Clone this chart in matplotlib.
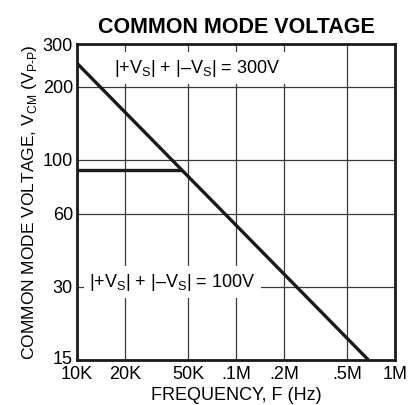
import matplotlib
matplotlib.use("Agg")
import matplotlib.pyplot as plt
from matplotlib.ticker import FixedLocator, FixedFormatter, NullLocator
from matplotlib.transforms import ScaledTranslation

# values
freq_300v = [10e3, 680e3]
vcm_300v = [250, 15]
freq_100v = [10e3, 46e3]
vcm_100v = [91, 91]

x_ticks = [10e3, 20e3, 50e3, 100e3, 200e3, 500e3, 1e6]
x_labels = ["10K", "20K", "50K", ".1M", ".2M", ".5M", "1M"]
y_ticks = [15, 30, 60, 100, 200, 300]
y_labels = ["15", "30", "60", "100", "200", "300"]

plt.rcParams["font.family"] = ["Liberation Sans", "DejaVu Sans"]
plt.rcParams["mathtext.fontset"] = "custom"
plt.rcParams["mathtext.rm"] = "Liberation Sans"

fig = plt.figure(figsize=(4.19, 4.05), dpi=100)
ax = fig.add_axes([0.184, 0.111, 0.759, 0.780])

ax.set_xscale("log")
ax.set_yscale("log")
ax.set_xlim(10e3, 1e6)
ax.set_ylim(15, 300)

ax.xaxis.set_major_locator(FixedLocator(x_ticks))
ax.xaxis.set_major_formatter(FixedFormatter(x_labels))
ax.yaxis.set_major_locator(FixedLocator(y_ticks))
ax.yaxis.set_major_formatter(FixedFormatter(y_labels))
ax.xaxis.set_minor_locator(NullLocator())
ax.yaxis.set_minor_locator(NullLocator())
ax.tick_params(length=0, labelsize=13)
ax.tick_params(axis="x", pad=4)
ax.tick_params(axis="y", pad=3)

ax.grid(True, color="#3a3a3a", lw=0.9)
ax.set_axisbelow(True)
for s in ax.spines.values():
    s.set_linewidth(2.0)
    s.set_color("#1a1a1a")

ax.plot(freq_300v, vcm_300v, color="#1a1a1a", lw=2.4, solid_capstyle="butt")
ax.plot(freq_100v, vcm_100v, color="#1a1a1a", lw=2.4, solid_capstyle="butt")

# nudge the bottom y label up so it clears "10K"
lbl15 = ax.get_yticklabels()[0]
lbl15.set_transform(lbl15.get_transform() + ScaledTranslation(0, 2 / 72, fig.dpi_scale_trans))

box = dict(facecolor="white", edgecolor="none", pad=4)
ax.text(0.378, 0.924, r"|+V$_\mathregular{S}$| + |–V$_\mathregular{S}$| = 300V",
        transform=ax.transAxes, ha="center", va="center", fontsize=13, bbox=box)
ax.text(0.30, 0.247, r"|+V$_\mathregular{S}$| + |–V$_\mathregular{S}$| = 100V",
        transform=ax.transAxes, ha="center", va="center", fontsize=13, bbox=box)

ax.set_title("COMMON MODE VOLTAGE", fontsize=15.5, fontweight="bold", pad=8)
ax.set_xlabel("FREQUENCY, F (Hz)", fontsize=13, labelpad=3)
ax.set_ylabel(r"COMMON MODE VOLTAGE, V$_\mathregular{CM}$ (V$_\mathregular{P\text{-}P}$)",
              fontsize=12.5, labelpad=3)

fig.savefig("out.png", dpi=100)
